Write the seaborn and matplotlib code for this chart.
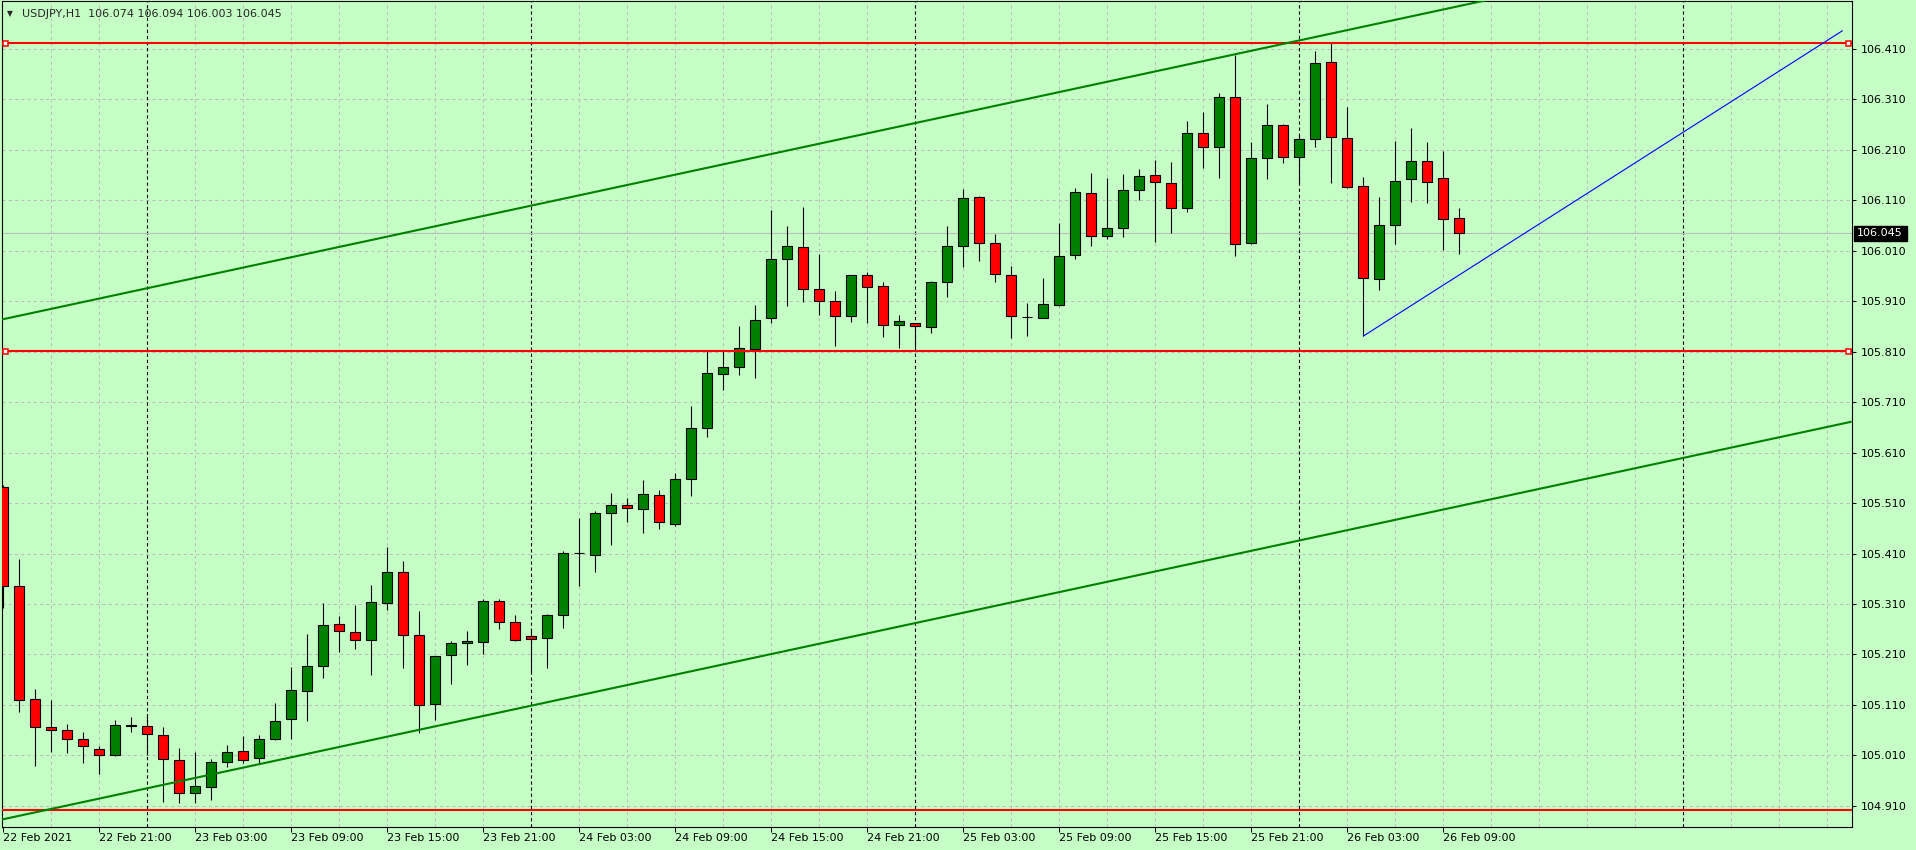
import numpy as np
import pandas as pd
import matplotlib
matplotlib.use("Agg")
import matplotlib.pyplot as plt
from matplotlib.patches import Rectangle
import seaborn as sns

# ---------------- data ----------------
symbol = "USDJPY,H1"
first_bar_time = "2021-02-22 15:00"

opens = [105.541, 105.346, 105.121, 105.066, 105.060, 105.042, 105.022, 105.010, 105.071, 105.068,
         105.050, 105.000, 104.935, 104.947, 104.996, 105.018, 105.004, 105.042, 105.083, 105.137,
         105.188, 105.270, 105.254, 105.238, 105.311, 105.374, 105.248, 105.111, 105.208, 105.232,
         105.234, 105.315, 105.274, 105.246, 105.242, 105.289, 105.412, 105.408, 105.490, 105.506,
         105.498, 105.525, 105.468, 105.557, 105.658, 105.765, 105.779, 105.816, 105.876, 105.993,
         106.017, 105.934, 105.910, 105.880, 105.961, 105.940, 105.862, 105.866, 105.858, 105.948,
         106.019, 106.116, 106.025, 105.961, 105.878, 105.876, 105.902, 106.001, 106.124, 106.039,
         106.055, 106.130, 106.160, 106.144, 106.094, 106.243, 106.215, 106.314, 106.025, 106.193,
         106.259, 106.195, 106.231, 106.384, 106.233, 106.138, 105.955, 106.062, 106.152, 106.187,
         106.154, 106.074]
highs = [105.546, 105.399, 105.141, 105.120, 105.073, 105.056, 105.028, 105.080, 105.086, 105.088,
         105.066, 105.024, 105.016, 105.002, 105.030, 105.048, 105.050, 105.113, 105.186, 105.250,
         105.311, 105.286, 105.307, 105.347, 105.422, 105.395, 105.296, 105.206, 105.236, 105.256,
         105.319, 105.319, 105.288, 105.260, 105.291, 105.414, 105.480, 105.494, 105.529, 105.521,
         105.555, 105.535, 105.569, 105.702, 105.813, 105.813, 105.861, 105.903, 106.090, 106.059,
         106.096, 106.003, 105.930, 105.961, 105.967, 105.948, 105.882, 105.866, 105.950, 106.059,
         106.133, 106.119, 106.043, 105.979, 105.906, 105.957, 106.065, 106.134, 106.164, 106.154,
         106.162, 106.172, 106.189, 106.185, 106.267, 106.285, 106.322, 106.397, 106.225, 106.300,
         106.261, 106.241, 106.405, 106.421, 106.294, 106.156, 106.116, 106.228, 106.253, 106.225,
         106.208, 106.094]
lows = [105.303, 105.096, 104.989, 105.017, 105.015, 104.994, 104.974, 105.008, 105.057, 105.010,
        104.917, 104.915, 104.915, 104.921, 104.987, 104.994, 104.992, 105.040, 105.043, 105.079,
        105.163, 105.214, 105.220, 105.169, 105.299, 105.184, 105.055, 105.081, 105.152, 105.190,
        105.210, 105.260, 105.236, 105.175, 105.184, 105.262, 105.345, 105.373, 105.426, 105.472,
        105.450, 105.458, 105.464, 105.523, 105.640, 105.734, 105.764, 105.758, 105.867, 105.901,
        105.909, 105.883, 105.822, 105.869, 105.867, 105.840, 105.818, 105.818, 105.848, 105.919,
        105.977, 105.990, 105.948, 105.838, 105.842, 105.876, 105.900, 105.994, 106.020, 106.033,
        106.037, 106.110, 106.028, 106.046, 106.086, 106.175, 106.155, 106.000, 106.023, 106.152,
        106.183, 106.142, 106.216, 106.144, 106.134, 105.841, 105.932, 106.024, 106.107, 106.105,
        106.012, 106.003]
closes = [105.346, 105.119, 105.066, 105.060, 105.042, 105.028, 105.010, 105.071, 105.068, 105.052,
          105.002, 104.935, 104.949, 104.996, 105.016, 105.000, 105.042, 105.079, 105.139, 105.188,
          105.268, 105.256, 105.238, 105.314, 105.374, 105.248, 105.109, 105.206, 105.232, 105.236,
          105.315, 105.274, 105.238, 105.240, 105.289, 105.412, 105.412, 105.490, 105.506, 105.500,
          105.527, 105.472, 105.557, 105.658, 105.767, 105.779, 105.817, 105.872, 105.993, 106.019,
          105.934, 105.910, 105.880, 105.961, 105.938, 105.862, 105.870, 105.860, 105.948, 106.019,
          106.114, 106.025, 105.963, 105.880, 105.878, 105.904, 105.999, 106.126, 106.039, 106.055,
          106.130, 106.158, 106.146, 106.094, 106.243, 106.215, 106.314, 106.023, 106.193, 106.259,
          106.195, 106.231, 106.382, 106.235, 106.136, 105.957, 106.062, 106.148, 106.187, 106.146,
          106.072, 106.045]

x_tick_bars = [0, 6, 12, 18, 24, 30, 36, 42, 48, 54, 60, 66, 72, 78, 84, 90]
x_tick_labels = ["22 Feb 2021", "22 Feb 21:00", "23 Feb 03:00", "23 Feb 09:00", "23 Feb 15:00",
                 "23 Feb 21:00", "24 Feb 03:00", "24 Feb 09:00", "24 Feb 15:00", "24 Feb 21:00",
                 "25 Feb 03:00", "25 Feb 09:00", "25 Feb 15:00", "25 Feb 21:00", "26 Feb 03:00",
                 "26 Feb 09:00"]
price_ticks = [104.910, 105.010, 105.110, 105.210, 105.310, 105.410, 105.510, 105.610,
               105.710, 105.810, 105.910, 106.010, 106.110, 106.210, 106.310, 106.410]

red_levels = [106.4225, 105.812, 104.902]
red_levels_marked = [106.4225, 105.812]
channel_lower_x = [-0.21, 115.48]
channel_lower_y = [104.882, 105.671]
channel_upper_x = [-0.21, 115.48]
channel_upper_y = [105.873, 106.662]
blue_line_x = [85.0, 114.94]
blue_line_y = [105.841, 106.446]
bid_price = 106.045

# ---------------- style ----------------
bg = "#C5FFC5"
bull, bear = "#008000", "#FF0000"
grid_c = "#BDBDBD"

sns.set_style("ticks", rc={"axes.facecolor": bg, "figure.facecolor": bg,
                           "axes.edgecolor": "black", "xtick.color": "black",
                           "ytick.color": "black"})
plt.rcParams["font.family"] = ["DejaVu Sans"]

W, H = 1916, 850
fig = plt.figure(figsize=(W / 100, H / 100), dpi=100, facecolor=bg)
ax = fig.add_axes([2 / W, 23 / H, 1850 / W, 826 / H])
ax.set_facecolor(bg)

n_total = 116
times = pd.date_range(first_bar_time, periods=n_total, freq="h")
sep_bars = [i for i, t in enumerate(times) if t.hour == 0]

xs = np.arange(len(opens))
df = pd.DataFrame({"x": xs, "open": opens, "high": highs, "low": lows, "close": closes})

# grid
for t in price_ticks:
    ax.axhline(t, color=grid_c, lw=0.75, ls=(0, (3, 3)), zorder=0.5)
for b in range(3, n_total, 3):
    if b not in sep_bars:
        ax.axvline(b, color=grid_c, lw=0.75, ls=(0, (3, 3)), zorder=0.5)
for b in sep_bars:
    ax.axvline(b, color="black", lw=0.8, ls=(0, (3, 2.5)), zorder=0.8)

# bid line
ax.axhline(bid_price, color="#BBBBBB", lw=0.8, zorder=0.9)

# candles
ax.vlines(df["x"], df["low"], df["high"], color="black", lw=0.8, zorder=3)
up = df["close"] >= df["open"]
body_bottom = np.minimum(df["open"], df["close"])
body_h = (df["close"] - df["open"]).abs()
ax.bar(df["x"], body_h, bottom=body_bottom, width=0.63,
       color=np.where(up, bull, bear), edgecolor="black", linewidth=0.8, zorder=4)

# horizontal red lines
for lv in red_levels:
    ax.axhline(lv, color="#FF0000", lw=1.5, zorder=5)
for lv in red_levels_marked:
    ax.plot([0.1, 115.3], [lv, lv], ls="none", marker="s", ms=3.6, mfc="white",
            mec="#FF0000", mew=1.1, zorder=6, clip_on=False)

# trend lines
sns.lineplot(x=channel_lower_x, y=channel_lower_y, ax=ax, color="#008000", lw=1.5,
             estimator=None, sort=False, legend=False, zorder=5)
sns.lineplot(x=channel_upper_x, y=channel_upper_y, ax=ax, color="#008000", lw=1.5,
             estimator=None, sort=False, legend=False, zorder=5)
sns.lineplot(x=blue_line_x, y=blue_line_y, ax=ax, color="#0000FF", lw=0.8,
             estimator=None, sort=False, legend=False, zorder=5)

# axes
ax.set_xlim(-0.081, 115.54)
ax.set_ylim(104.868, 106.505)
ax.yaxis.tick_right()
ax.set_yticks(price_ticks)
ax.set_yticklabels([f"{v:.3f}" for v in price_ticks])
ax.set_xticks(x_tick_bars)
ax.set_xticklabels(x_tick_labels)
for lab in ax.get_xticklabels():
    lab.set_horizontalalignment("left")
ax.tick_params(axis="y", direction="out", length=3, width=0.75, pad=3, labelsize=8)
ax.tick_params(axis="x", direction="out", length=3.5, width=0.75, pad=0.8, labelsize=8)
for s in ax.spines.values():
    s.set_visible(True)
    s.set_linewidth(0.8)
    s.set_color("black")
ax.set_xlabel("")
ax.set_ylabel("")

# bid price marker on the price scale
fig.patches.append(Rectangle((1854 / W, 1 - 240.5 / H), 53 / W, 14.5 / H,
                             transform=fig.transFigure, facecolor="black",
                             edgecolor="black", zorder=10))
fig.text(1857 / W, 1 - 233.3 / H, f"{bid_price:.3f}", color="white", fontsize=8,
         va="center", ha="left", zorder=11)

# title
fig.text(6.5 / W, 1 - 16.5 / H, "\u25BC", fontsize=5.5, va="baseline", ha="left")
title = f"{symbol}  {opens[-1]:.3f} {highs[-1]:.3f} {lows[-1]:.3f} {closes[-1]:.3f}"
fig.text(21.5 / W, 1 - 16.7 / H, title, fontsize=8, va="baseline", ha="left")

fig.savefig("out.png", dpi=100, facecolor=bg)
